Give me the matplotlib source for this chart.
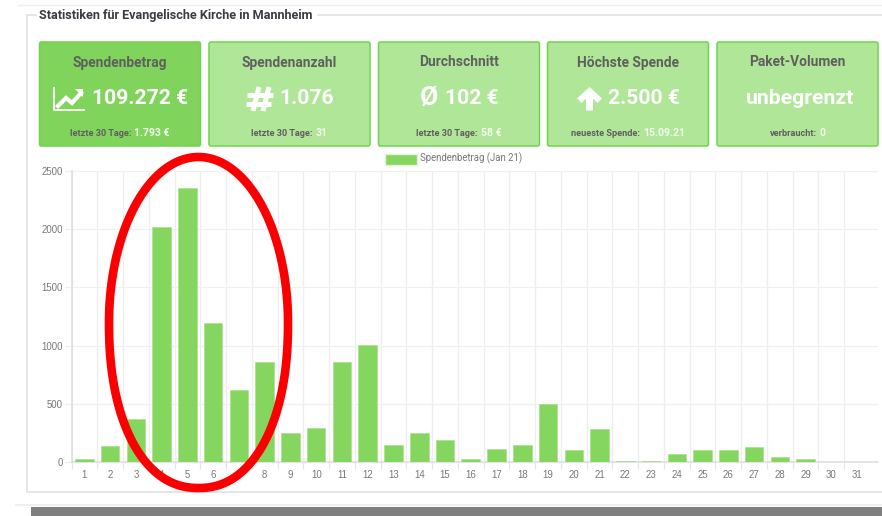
import matplotlib
matplotlib.use("Agg")
import numpy as np
import matplotlib.pyplot as plt
from matplotlib.patches import FancyBboxPatch, Rectangle, Polygon

plt.rcParams['font.family'] = ['Roboto', 'DejaVu Sans']

days = list(range(1, 31 + 1))
amounts = [30, 140, 370, 2020, 2350, 1190, 620, 860, 250, 290, 860, 1005, 150, 250, 190,
           25, 115, 150, 500, 100, 280, 10, 10, 65, 100, 100, 125, 40, 30, 0, 0]
y_ticks = [0, 500, 1000, 1500, 2000, 2500]
legend_label = "Spendenbetrag (Jan 21)"
title = "Statistiken für Evangelische Kirche in Mannheim"
card_titles = ["Spendenbetrag", "Spendenanzahl", "Durchschnitt", "Höchste Spende", "Paket-Volumen"]
card_values = ["109.272 €", "1.076", "102 €", "2.500 €", "unbegrenzt"]
card_notes = ["letzte 30 Tage: ", "letzte 30 Tage: ", "letzte 30 Tage: ", "neueste Spende: ", "verbraucht: "]
card_note_values = ["1.793 €", "31", "58 €", "15.09.21", "0"]

W, H = 882, 516
fig = plt.figure(figsize=(W / 100, H / 100), dpi=100, facecolor="white")

# page overlay in pixel coordinates
bg = fig.add_axes([0, 0, 1, 1], zorder=0)
bg.set_xlim(0, W); bg.set_ylim(H, 0); bg.axis("off")

bg.plot([18, 882], [5, 5], color="#efefef", lw=1)
bg.plot([36, 27, 27], [15, 15, 491.5], color="#e2e2e2", lw=1.2)
bg.plot([27, 882], [491.5, 491.5], color="#e2e2e2", lw=1.2)
bg.plot([318, 882], [15, 15], color="#e2e2e2", lw=1.2)
bg.plot([16, 882], [504.5, 504.5], color="#f0f0f0", lw=1.5)
bg.add_patch(Rectangle((31, 507), 851, 9, color="#7f7f7f", lw=0))
bg.text(39, 15, title, fontsize=9.1, fontweight="bold", color="#3c3c46", va="center", ha="left")

lefts = [39.5, 209, 378.5, 547.5, 717]
width = 161
for i, x in enumerate(lefts):
    face = "#80d45b" if i == 0 else "#b0e697"
    bg.add_patch(FancyBboxPatch((x, 42), width, 104, boxstyle="round,pad=0,rounding_size=2",
                                fc=face, ec="#70d34d", lw=1.1))
    cx = x + width / 2
    bg.text(cx, 62.5, card_titles[i], fontsize=9.9, fontweight="bold", color="#5f5f5f", ha="center", va="center")

# value lines with icons
vy = 98
vs = 15.2
bg.text(91.5, vy, card_values[0], fontsize=vs, fontweight="bold", color="white", ha="left", va="center")
bg.plot([54, 54, 85], [87, 110, 110], color="white", lw=1.3, solid_capstyle="butt")
bg.plot([58, 66, 72, 81], [106, 98, 103, 93], color="white", lw=3, solid_joinstyle="miter")
bg.add_patch(Polygon([[75, 89], [83, 89], [83, 97]], color="white", lw=0))

bg.text(279.5, vy, card_values[1], fontsize=vs, fontweight="bold", color="white", ha="left", va="center")
for xs, ys in [([247, 273], [94.5, 94.5]), ([246, 271], [104, 104]),
               ([259, 253], [87, 111]), ([269, 263], [87, 111])]:
    bg.plot(xs, ys, color="white", lw=3.6, solid_capstyle="butt")

bg.text(429, vy, "Ø", fontsize=19, fontweight="bold", color="white", ha="center", va="center")
bg.text(445, vy, card_values[2], fontsize=vs, fontweight="bold", color="white", ha="left", va="center")

bg.text(607.5, vy, card_values[3], fontsize=vs, fontweight="bold", color="white", ha="left", va="center")
bg.add_patch(Polygon([[589.5, 87], [602, 98.5], [597.5, 103], [593, 98.5], [593, 110.5], [586, 110.5],
                      [586, 98.5], [581.5, 103], [577, 98.5]], color="white", lw=0))

bg.text(800, vy, card_values[4], fontsize=vs, fontweight="bold", color="white", ha="center", va="center")

# footnotes: grey prefix followed by white value, centred together
renderer = fig.canvas.get_renderer()
for i, x in enumerate(lefts):
    t1 = bg.text(0, 133, card_notes[i].strip(), fontsize=6.6, fontweight="bold", color="#5f5f5f", ha="left", va="center")
    t2 = bg.text(0, 133, card_note_values[i], fontsize=7.6, fontweight="bold", color="#f4fbef", ha="left", va="center")
    w1 = t1.get_window_extent(renderer).width
    w2 = t2.get_window_extent(renderer).width
    start = x + width / 2 - (w1 + w2 + 3) / 2
    t1.set_x(start)
    t2.set_x(start + w1 + 3)

# legend
bg.add_patch(Rectangle((384.5, 153.5), 32, 11, fc="#85d65e", ec="#e3f3da", lw=1))
bg.text(420.5, 158.5, legend_label, fontsize=6.9, color="#777777", ha="left", va="center")

# chart
left, right, top, bottom = 71.5, 878, 171, 462
ax = fig.add_axes([left / W, 1 - bottom / H, (right - left) / W, (bottom - top) / H], zorder=1)
ax.patch.set_alpha(0)
ax.bar(days, amounts, width=0.72, color="#85d65e", edgecolor="#a8e28c", linewidth=0.5, zorder=3)
ax.set_xlim(0.5, 31.81)
ax.set_ylim(0, 2500)
ax.set_yticks(y_ticks)
ax.set_xticks(days)
ax.set_xticks([d + 0.5 for d in [0] + days[:-1]], minor=True)
ax.tick_params(axis="x", which="major", length=0, pad=6, labelsize=6.9, labelcolor="#777777")
ax.tick_params(axis="x", which="minor", length=5, color="#e6e6e6", width=0.9)
ax.tick_params(axis="y", length=5, color="#eeeeee", width=0.9, pad=1, labelsize=6.9, labelcolor="#777777")
for lab in ax.get_xticklabels() + ax.get_yticklabels():
    lab.set_fontfamily(["Liberation Sans", "DejaVu Sans"])
ax.grid(True, axis="y", color="#f0f0f0", lw=0.9, zorder=0)
ax.grid(True, axis="x", which="minor", color="#eeeeee", lw=0.9, zorder=0)
ax.grid(False, axis="x", which="major")
for side in ["top", "right"]:
    ax.spines[side].set_visible(False)
ax.spines["left"].set_color("#dddddd")
ax.spines["bottom"].set_color("#dddddd")
ax.spines["left"].set_linewidth(1.1)
ax.spines["bottom"].set_linewidth(1.1)

# red hand-drawn oval on top: elliptical above, slightly fuller below
ov = fig.add_axes([0, 0, 1, 1], zorder=2)
ov.set_xlim(0, W); ov.set_ylim(H, 0); ov.axis("off"); ov.patch.set_alpha(0)
t = np.linspace(0, 2 * np.pi, 400)
n = np.where(np.sin(t) > 0, 2.2, 2.0)
ox = 198.5 + 89.5 * np.sign(np.cos(t)) * np.abs(np.cos(t)) ** (2 / n)
oy = 322.5 + 165.5 * np.sign(np.sin(t)) * np.abs(np.sin(t)) ** (2 / n)
ov.add_patch(Polygon(np.column_stack([ox, oy]), closed=True, fc="none", ec="#fb0000", lw=6.2))

fig.savefig("out.png", dpi=100, facecolor="white")
